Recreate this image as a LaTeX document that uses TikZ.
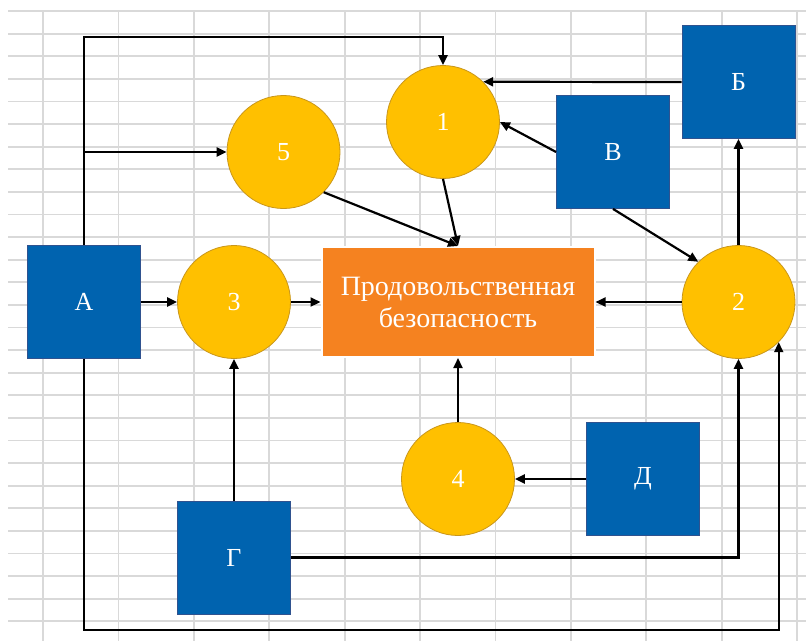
\documentclass[tikz,border=0pt]{standalone}
\usepackage{fontspec}
\setmainfont{Liberation Serif}
\usetikzlibrary{arrows.meta}
\definecolor{gridc}{HTML}{D9D9D9}
\definecolor{boxblue}{HTML}{0063AF}
\definecolor{boxedge}{HTML}{2F528F}
\definecolor{gold}{HTML}{FFC000}
\definecolor{goldedge}{HTML}{C9961A}
\definecolor{foodorange}{HTML}{F58220}
\begin{document}
\begin{tikzpicture}[x=1pt,y=-1pt,
  sqbox/.style={rectangle,fill=boxblue,draw=boxedge,line width=0.8pt,minimum size=113pt,inner sep=0pt,text=white,font=\fontsize{26}{31}\selectfont},
  circ/.style={circle,fill=gold,draw=goldedge,line width=0.8pt,minimum size=113pt,inner sep=0pt,text=white,font=\fontsize{26}{31}\selectfont},
  foodbox/.style={rectangle,fill=foodorange,draw=white,line width=2pt,minimum width=273pt,minimum height=110pt,inner sep=0pt,text=white,align=center,font=\fontsize{28}{32}\selectfont},
  arr/.style={draw=black,line width=2.2pt,-{Triangle[length=10pt,width=9pt]}},
  gridline/.style={draw=gridc,line width=1.8pt}]
\useasboundingbox (0,0) rectangle (806,641);
\fill[white] (0,0) rectangle (806,641);
% grid
\foreach \k in {0,...,27} {\draw[gridline] (8,{11+22.6*\k}) -- (806,{11+22.6*\k});}
\foreach \k in {0,...,10} {\draw[gridline] ({43+75.4*\k},11) -- ({43+75.4*\k},641);}
% nodes
\node[sqbox] (A) at (84,302) {А};
\node[sqbox] (B) at (738.5,82) {Б};
\node[sqbox] (V) at (613,152) {В};
\node[sqbox] (G) at (234,557.5) {Г};
\node[sqbox] (D) at (643,479) {Д};
\node[circ] (c1) at (443,122) {1};
\node[circ] (c2) at (738.5,302) {2};
\node[circ] (c3) at (234,302) {3};
\node[circ] (c4) at (458,479) {4};
\node[circ] (c5) at (283.5,152) {5};
\node[foodbox] (F) at (458,302) {Продовольственная\\безопасность};
% helper coordinates
\coordinate (top) at (84,37);
\coordinate (br5) at (84,152);
\coordinate (bot) at (84,630);
% connectors
\draw[arr] (A.north) -- (top) -| (c1.north);
\draw[arr] (br5) -- (c5.west);
\draw[arr] (A.east) -- (c3.west);
\draw[arr] (c3.east) -- (F.west);
\draw[arr] (c5.south east) -- (F.north);
\draw[arr] (c1.south) -- (F.north);
\draw[arr] (B.west) -- (c1.45);
\draw[arr] (V.west) -- (c1.east);
\draw[arr] (V.south) -- (c2.north west);
\draw[arr] (c2.north) -- (B.south);
\draw[arr] (c2.west) -- (F.east);
\draw[arr] (c4.north) -- (F.south);
\draw[arr] (D.west) -- (c4.east);
\draw[arr] (G.north) -- (c3.south);
\draw[arr] (G.east) -| (c2.south);
\draw[arr] (A.south) -- (bot) -| (c2.-45);
\end{tikzpicture}
\end{document}
